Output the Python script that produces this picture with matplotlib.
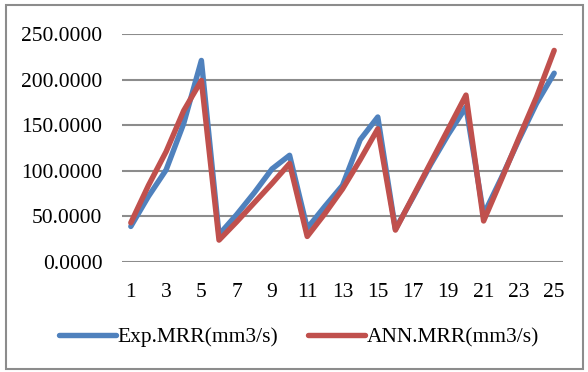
import matplotlib.pyplot as plt
from matplotlib.patches import Rectangle

plt.rcParams['font.family'] = ['Liberation Serif', 'DejaVu Serif']

runs = list(range(1, 26))
exp_mrr = [39, 72, 101, 152, 221, 30, 52, 76, 102, 117,
           37, 61, 84, 134, 159, 36, 71, 107, 140, 170,
           52, 92, 134, 174, 207]
ann_mrr = [43, 84, 121, 166, 199, 24, 44, 65, 86, 108,
           28, 53, 80, 112, 146, 35, 72, 109, 146, 183,
           45, 90, 136, 181, 232]
xtick_labels = [str(r) for r in runs if r % 2 == 1]

W, H = 588, 372
fig = plt.figure(figsize=(W / 100, H / 100), dpi=100)
ax = fig.add_axes([122 / W, 1 - 262 / H, (563 - 122) / W, (262 - 34) / H])

blue = '#4F81BD'
red = '#C0504D'
ax.plot(runs, exp_mrr, color=blue, lw=3.9, solid_joinstyle='round',
        solid_capstyle='round', label='Exp.MRR(mm3/s)', zorder=3)
ax.plot(runs, ann_mrr, color=red, lw=3.9, solid_joinstyle='round',
        solid_capstyle='round', label='ANN.MRR(mm3/s)', zorder=4)

ax.set_xlim(0.5, 25.5)
ax.set_ylim(0, 250)
ax.set_yticks(range(0, 251, 50))
ax.set_yticklabels([f'{v:.4f}' for v in range(0, 251, 50)])
ax.set_xticks([r for r in runs if r % 2 == 1])
ax.set_xticklabels(xtick_labels)
ax.tick_params(length=0, labelsize=15.5, pad=14, axis='y')
ax.tick_params(length=0, labelsize=15.5, pad=15, axis='x')
ax.yaxis.grid(True, color='#8c8c8c', lw=1.5)
ax.set_axisbelow(True)
for s in ax.spines.values():
    s.set_visible(False)

fig.legend(loc='center', bbox_to_anchor=(299 / W, 1 - 337 / H), ncol=2,
           frameon=False, fontsize=15.5, handlelength=2.65,
           handletextpad=0.1, columnspacing=1.35)

fig.patches.append(Rectangle((6 / W, 3 / H), 577 / W, 364 / H,
                             transform=fig.transFigure, fill=False,
                             edgecolor='#8c8c8c', lw=1.5))

fig.savefig('out.png', dpi=100)
